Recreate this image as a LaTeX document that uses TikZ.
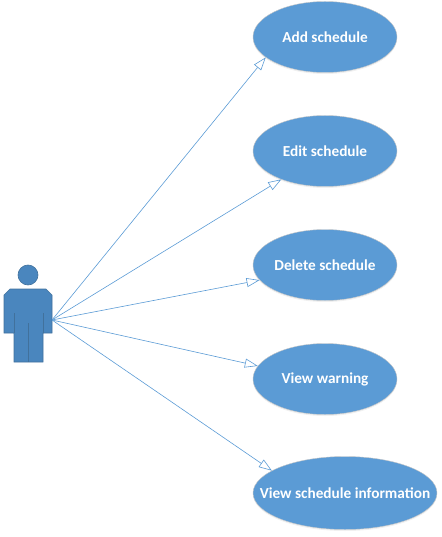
\documentclass[tikz,border=0pt]{standalone}
\usepackage{fontspec}
\setmainfont{Carlito}
\usepackage{xcolor}
\usetikzlibrary{shapes.geometric,arrows.meta,shadows}
\definecolor{caseBlue}{HTML}{5B9BD5}
\definecolor{actorBlue}{HTML}{4A86BE}
\definecolor{actorLine}{HTML}{41719C}
\newcommand{\casetext}[1]{\makebox[0pt]{\raisebox{-1pt}{#1}}}

\begin{document}
\begin{tikzpicture}[
    x=1pt, y=-1pt,
    font=\fontsize{15.3}{17}\selectfont\bfseries,
    usecase/.style={ellipse, draw=gray!45, line width=0.4pt, fill=caseBlue, text=white, inner sep=0pt,
        minimum width=144pt, minimum height=71pt,
        drop shadow={opacity=0.12, shadow xshift=0pt, shadow yshift=-1.5pt}},
    actorpart/.style={draw=actorLine, line width=0.6pt, fill=actorBlue},
    arrow/.style={-{Triangle[open, fill=white, length=13pt, width=9pt]}, draw=caseBlue, line width=0.6pt}
]
    \useasboundingbox (0,0) rectangle (441,537);

    \node[usecase] (add) at (325, 37) {\casetext{Add schedule}};
    \node[usecase] (edit) at (325, 151) {\casetext{Edit schedule}};
    \node[usecase] (delete) at (325, 265) {\casetext{Delete schedule}};
    \node[usecase] (warning) at (325, 379) {\casetext{View warning}};
    \node[usecase, minimum width=184pt, minimum height=73pt] (info) at (345, 493) {\casetext{View schedule information}};

    % the actor
    \node[circle, actorpart, minimum size=20pt, inner sep=0pt] (head) at (28, 275) {};
    \fill[actorpart] (10, 289) -- (46, 289) -- (52, 295) -- (52, 333) -- (43, 333) -- (43, 362)
        -- (14, 362) -- (14, 333) -- (4, 333) -- (4, 295) -- cycle;
    \draw[actorLine, line width=0.6pt] (14, 313) -- (14, 333);
    \draw[actorLine, line width=0.6pt] (43, 313) -- (43, 333);
    \draw[actorLine, line width=0.6pt] (28, 323) -- (28, 362);
    \coordinate (hand) at (52, 320);

    \draw[arrow] (hand) -- (add.199);
    \draw[arrow] (hand) -- (edit.213);
    \draw[arrow] (hand) -- (delete.193);
    \draw[arrow] (hand) -- (warning.169);
    \draw[arrow] (hand) -- (info.163);
\end{tikzpicture}
\end{document}
